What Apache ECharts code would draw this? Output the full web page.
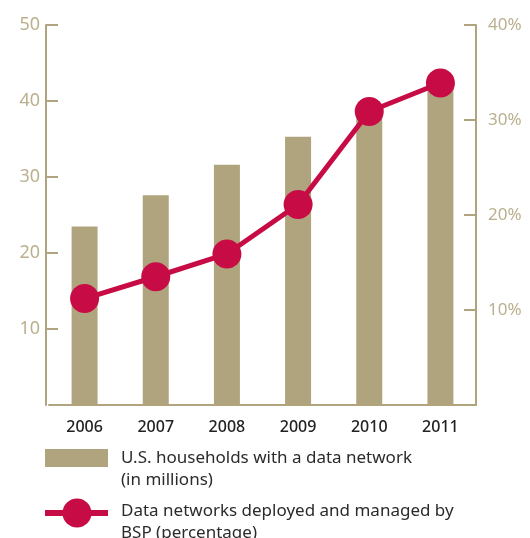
<!DOCTYPE html>
<html>
<head>
<meta charset="utf-8">
<script src="https://cdn.jsdelivr.net/npm/echarts@6/dist/echarts.min.js"></script>
<style>
  html, body { margin: 0; padding: 0; background: #fff; }
  #chart { width: 530px; height: 538px; }
</style>
</head>
<body>
<div id="chart"></div>
<script>
// data
const years = ['2006', '2007', '2008', '2009', '2010', '2011'];
const households = [23.5, 27.6, 31.6, 35.3, 38.8, 43.2];   // millions
const bspShare = [11.2, 13.5, 15.9, 21.1, 30.9, 33.9];       // percent
const leftTicks = { min: 0, max: 50, interval: 10 };
const rightTicks = { min: 0, max: 40, interval: 10 };

const tan = '#B0A47E';
const tanText = '#BAB08E';
const red = '#C70C45';
const dark = '#2b2b2b';
const font = 'Noto Sans';

const chart = echarts.init(document.getElementById('chart'));

const option = {
  animation: false,
  grid: { left: 49, right: 54, top: 25, bottom: 133 },
  xAxis: {
    type: 'category',
    data: years,
    axisLine: { lineStyle: { color: tan, width: 2 } },
    axisTick: { inside: true, length: 16, lineStyle: { color: tan, width: 1.5 } },
    axisLabel: { color: '#222', fontFamily: font, fontSize: 16, fontWeight: 500, margin: 14 }
  },
  yAxis: [
    {
      type: 'value',
      min: leftTicks.min, max: leftTicks.max, interval: leftTicks.interval,
      offset: 3,
      splitLine: { show: false },
      axisLine: { show: true, lineStyle: { color: tan, width: 2 } },
      axisTick: { show: true, inside: true, length: 12, lineStyle: { color: tan, width: 2 } },
      axisLabel: {
        showMinLabel: false, color: tanText, fontFamily: font, fontSize: 18,
        margin: 6, padding: [0, 0, 9, 0]
      }
    },
    {
      type: 'value',
      min: rightTicks.min, max: rightTicks.max, interval: rightTicks.interval,
      position: 'right',
      splitLine: { show: false },
      axisLine: { show: true, lineStyle: { color: tan, width: 2 } },
      axisTick: { show: true, inside: true, length: 12, lineStyle: { color: tan, width: 2 } },
      axisLabel: {
        showMinLabel: false, formatter: '{value}%', color: tanText, fontFamily: font,
        fontSize: 17, margin: 12, padding: [0, 0, 9, 0]
      }
    }
  ],
  series: [
    {
      name: 'U.S. households with a data network (in millions)',
      type: 'bar',
      data: households,
      barWidth: 26,
      itemStyle: { color: tan }
    },
    {
      name: 'Data networks deployed and managed by BSP (percentage)',
      type: 'line',
      yAxisIndex: 1,
      data: bspShare,
      symbol: 'circle',
      symbolSize: 29,
      lineStyle: { color: red, width: 5 },
      itemStyle: { color: red }
    }
  ],
  // legend drawn by hand so the two-line labels sit like the original
  graphic: [
    { type: 'rect', shape: { x: 45, y: 449, width: 63, height: 18 }, style: { fill: tan } },
    {
      type: 'text', left: 121, top: 447,
      style: {
        text: 'U.S. households with a data network\n(in millions)',
        fill: dark, font: '17px "Noto Sans"', lineHeight: 22
      }
    },
    { type: 'line', shape: { x1: 45, y1: 513, x2: 108, y2: 513 }, style: { stroke: red, lineWidth: 6 } },
    { type: 'circle', shape: { cx: 77, cy: 513, r: 14.5 }, style: { fill: red } },
    {
      type: 'text', left: 121, top: 500,
      style: {
        text: 'Data networks deployed and managed by\nBSP (percentage)',
        fill: dark, font: '17px "Noto Sans"', lineHeight: 22
      }
    }
  ]
};

chart.setOption(option);
</script>
</body>
</html>
